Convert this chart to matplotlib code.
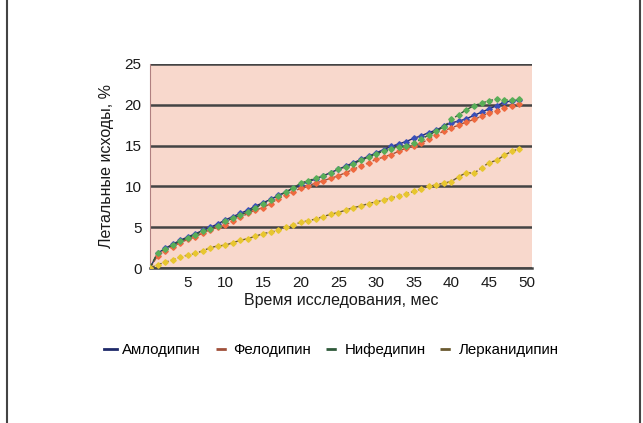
import numpy as np
import matplotlib.pyplot as plt
from matplotlib.lines import Line2D

plt.rcParams['font.family'] = ['Liberation Sans', 'DejaVu Sans']

# месяцы наблюдения
months = list(range(50))

amlodipine = [0, 1.8, 2.4, 2.9, 3.4, 3.8, 4.2, 4.6, 5.0, 5.4,
              5.9, 6.3, 6.7, 7.1, 7.6, 8.0, 8.4, 8.9, 9.3, 9.8,
              10.2, 10.6, 10.9, 11.3, 11.7, 12.1, 12.5, 12.9, 13.3, 13.7,
              14.1, 14.5, 14.9, 15.2, 15.5, 15.9, 16.2, 16.6, 16.9, 17.4,
              17.8, 18.0, 18.3, 18.7, 19.1, 19.5, 19.9, 20.3, 20.5, 20.6]

felodipine = [0, 1.5, 2.1, 2.6, 3.1, 3.5, 3.8, 4.3, 4.7, 5.0,
              5.3, 5.7, 6.2, 6.7, 7.1, 7.4, 7.9, 8.5, 8.9, 9.3,
              9.8, 10.1, 10.4, 10.7, 11.0, 11.3, 11.7, 12.1, 12.5, 12.9,
              13.3, 13.6, 13.9, 14.3, 14.7, 15.0, 15.3, 15.8, 16.3, 16.8,
              17.2, 17.5, 17.9, 18.2, 18.6, 19.0, 19.3, 19.6, 19.9, 20.1]

nifedipine = [0, 1.9, 2.3, 2.8, 3.3, 3.7, 4.1, 4.5, 4.8, 5.2,
              5.7, 6.1, 6.5, 6.9, 7.4, 7.9, 8.3, 8.8, 9.3, 9.8,
              10.4, 10.7, 11.0, 11.3, 11.7, 12.1, 12.4, 12.8, 13.2, 13.6,
              14.0, 14.3, 14.6, 14.8, 15.0, 15.3, 15.8, 16.3, 16.8, 17.3,
              18.2, 18.8, 19.4, 19.9, 20.2, 20.5, 20.7, 20.6, 20.6, 20.7]

lercanidipine = [0, 0.4, 0.7, 1.0, 1.3, 1.6, 1.8, 2.1, 2.5, 2.7,
                 2.8, 3.1, 3.4, 3.6, 3.9, 4.2, 4.4, 4.6, 5.0, 5.3,
                 5.6, 5.8, 6.0, 6.3, 6.6, 6.8, 7.1, 7.4, 7.6, 7.9,
                 8.1, 8.3, 8.6, 8.8, 9.1, 9.4, 9.7, 10.0, 10.2, 10.4,
                 10.6, 11.2, 11.7, 11.6, 12.3, 12.9, 13.2, 13.8, 14.3, 14.6]

labels = ['Амлодипин', 'Фелодипин', 'Нифедипин', 'Лерканидипин']
x_ticks = [5, 10, 15, 20, 25, 30, 35, 40, 45, 50]
y_ticks = [0, 5, 10, 15, 20, 25]

fig = plt.figure(figsize=(6.43, 4.23), dpi=100)
ax = fig.add_axes([0.2333, 0.3664, 0.5941, 0.4823])
ax.set_facecolor('#f8d8cc')

series = [
    (amlodipine, '#3a4fb8', '#1f2a6a', '-'),
    (felodipine, '#ee6a40', '#a0503a', '--'),
    (nifedipine, '#5aae58', '#2f5a3a', '--'),
    (lercanidipine, '#e8c630', '#6a5a30', '--'),
]
handles = []
for (vals, mc, lc, ls), lab in zip(series, labels):
    ax.plot(months, vals, color=lc, ls=ls, lw=1.0, marker='D',
            markersize=2.8, markerfacecolor=mc, markeredgecolor=mc,
            label=lab, zorder=3)
    handles.append(Line2D([], [], color=lc, ls=ls, lw=2.0))

ax.set_xlim(0, 50.7)
ax.set_ylim(0, 25)
ax.set_xticks(x_ticks)
ax.set_yticks(y_ticks)
ax.yaxis.grid(True, color='#444444', lw=1.8)
ax.set_axisbelow(True)
ax.tick_params(length=0, labelsize=11, colors='#1a1a1a', pad=6)
for s in ['top', 'right']:
    ax.spines[s].set_visible(False)
ax.spines['left'].set_color('#b08080')
ax.spines['left'].set_linewidth(0.8)
ax.spines['bottom'].set_color('#444444')
ax.spines['bottom'].set_linewidth(1.8)

ax.set_xlabel('Время исследования, мес', fontsize=11.5, color='#1a1a1a', labelpad=2)
ax.set_ylabel('Летальные исходы, %', fontsize=11.5, color='#1a1a1a', labelpad=8)

fig.legend(handles, labels, loc='center', bbox_to_anchor=(0.515, 0.172),
           ncol=4, frameon=False, fontsize=10.8, handlelength=0.9,
           handletextpad=0.3, columnspacing=1.0)

# рамка по краям
fig.add_artist(Line2D([0.011, 0.011], [0, 1], color='#444444', lw=1.5,
                      transform=fig.transFigure))
fig.add_artist(Line2D([0.995, 0.995], [0, 1], color='#444444', lw=1.5,
                      transform=fig.transFigure))

fig.savefig('out.png', dpi=100)
